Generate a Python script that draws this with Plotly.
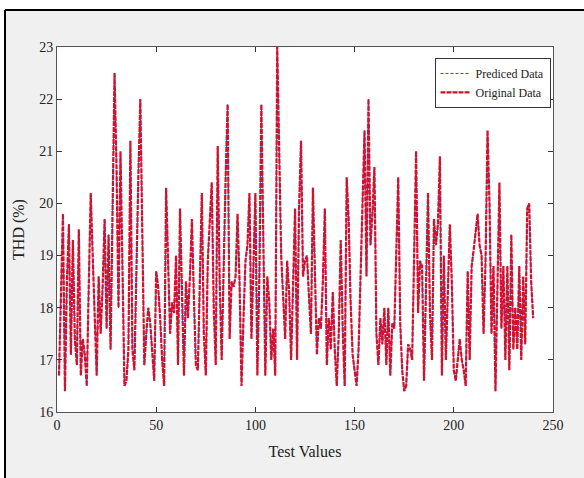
import plotly.graph_objects as go

original = [
    16.7, 18.2, 19.8, 16.4, 18.5, 19.6, 17.1, 19.3, 17.4, 16.9,
    19.5, 16.7, 17.4, 17.1, 16.5, 18.4, 20.2, 19.0, 17.8, 16.7,
    18.6, 17.5, 18.4, 19.7, 17.6, 19.4, 17.2, 19.8, 22.5, 20.7,
    18.0, 21.0, 18.5, 16.5, 16.6, 17.2, 21.2, 17.2, 16.8, 19.0,
    20.5, 22.0, 19.2, 16.9, 17.5, 18.0, 17.7, 17.2, 16.6, 18.7,
    18.4, 17.8, 17.0, 16.5, 20.3, 18.9, 17.5, 18.1, 17.9, 19.0,
    16.9, 19.9, 18.0, 16.7, 18.5, 17.8, 18.6, 19.7, 18.2, 16.9,
    16.8, 18.5, 20.2, 17.5, 16.7, 18.9, 19.6, 20.4, 18.0, 16.9,
    21.1, 18.5, 17.0, 18.9, 20.5, 21.9, 17.4, 18.5, 18.4, 18.6,
    19.8, 18.5, 16.5, 17.8, 18.9, 19.2, 20.2, 17.4, 18.8, 20.2,
    16.7, 18.6, 21.9, 19.0, 16.7, 18.6, 18.1, 17.0, 17.6, 16.7,
    23.0, 21.0, 19.0, 18.2, 17.4, 18.9, 18.3, 17.0, 18.6, 19.9,
    17.0, 19.9, 21.2, 18.6, 18.9, 19.0, 18.2, 17.5, 20.3, 18.8,
    17.1, 17.8, 17.6, 18.5, 19.9, 16.9, 17.8, 17.2, 18.3, 17.2,
    16.5, 17.5, 19.3, 17.6, 16.5, 20.5, 19.7, 18.1, 17.1, 16.8,
    16.5, 17.2, 18.6, 20.0, 21.4, 18.6, 22.0, 19.2, 19.8, 20.7,
    17.5, 16.9, 17.8, 17.3, 18.0, 16.9, 18.0, 16.7, 17.7, 17.6,
    19.2, 20.5, 17.7, 16.8, 16.4, 16.5, 17.3, 17.2, 17.0, 19.0,
    21.0, 17.9, 18.9, 18.8, 16.6, 18.4, 20.2, 17.9, 17.0, 19.7,
    19.2, 19.6, 20.9, 16.7, 19.0, 17.0, 18.5, 19.6, 18.5, 16.8,
    16.6, 17.0, 17.4, 17.0, 16.8, 16.5, 18.7, 17.0, 18.8, 19.1,
    19.4, 19.8, 19.2, 19.0, 17.5, 18.9, 21.4, 20.0, 17.5, 18.8,
    16.4, 18.3, 20.4, 17.6, 18.8, 17.0, 18.8, 16.8, 19.4, 17.2,
    18.0, 17.2, 18.8, 17.0, 18.6, 17.3, 19.9, 20.0, 18.5, 17.8,
]
predicted = list(original)
test_idx = list(range(1, len(original) + 1))

x_ticks = [0, 50, 100, 150, 200, 250]
y_ticks = [16, 17, 18, 19, 20, 21, 22, 23]

FONT = "Liberation Serif, Times New Roman, serif"

fig = go.Figure()
fig.add_trace(go.Scatter(x=test_idx, y=predicted, mode="lines", name="Prediced Data",
                         line=dict(color="#3b3bff", width=1, dash="3px,2px")))
fig.add_trace(go.Scatter(x=test_idx, y=original, mode="lines", name="Original Data",
                         line=dict(color="#d0122c", width=2.2, dash="5px,1px")))

W, H = 584, 478
L, R, T, B = 57, 553, 47, 412
def px(xp):
    return (xp - L) / (R - L)
def py(yp):
    return (B - yp) / (B - T)

fig.update_layout(
    width=W, height=H,
    margin=dict(l=L, r=W - R, t=T, b=H - B, pad=0),
    paper_bgcolor="#f0f0f0",
    plot_bgcolor="white",
    font=dict(family=FONT, size=14, color="#222"),
    showlegend=True,
    legend=dict(x=0.995, y=0.97, xanchor="right", yanchor="top",
                bgcolor="white", bordercolor="#333", borderwidth=1,
                font=dict(family=FONT, size=12, color="#222"),
                tracegroupgap=0, itemwidth=30),
    shapes=[
        dict(type="rect", xref="paper", yref="paper", layer="above",
             x0=px(-5), x1=px(4), y0=py(500), y1=py(-5),
             fillcolor="white", line=dict(width=0)),
        dict(type="rect", xref="paper", yref="paper", layer="above",
             x0=px(-5), x1=px(600), y0=py(9), y1=py(-5),
             fillcolor="white", line=dict(width=0)),
        dict(type="line", xref="paper", yref="paper", layer="above",
             x0=px(5), x1=px(5), y0=py(500), y1=py(10),
             line=dict(color="black", width=2)),
        dict(type="line", xref="paper", yref="paper", layer="above",
             x0=px(5), x1=px(600), y0=py(10), y1=py(10),
             line=dict(color="black", width=2)),
    ],
)
fig.update_xaxes(range=[0, 250], tickvals=x_ticks, ticks="inside", ticklen=5,
                 tickcolor="#333", showline=True, linecolor="#555", linewidth=1,
                 mirror="ticks", showgrid=False, zeroline=False, automargin=False,
                 title=dict(text="Test Values", font=dict(family=FONT, size=16), standoff=14),
                 tickfont=dict(family=FONT, size=14))
fig.update_yaxes(range=[16, 23], tickvals=y_ticks, ticks="inside", ticklen=5,
                 tickcolor="#333", showline=True, linecolor="#555", linewidth=1,
                 mirror="ticks", showgrid=False, zeroline=False, automargin=False,
                 title=dict(text="THD (%)", font=dict(family=FONT, size=16), standoff=10),
                 tickfont=dict(family=FONT, size=14))

fig.write_html("out.html", config={"displayModeBar": False},
               post_script="document.body.style.margin='0';document.body.style.overflow='hidden';")
